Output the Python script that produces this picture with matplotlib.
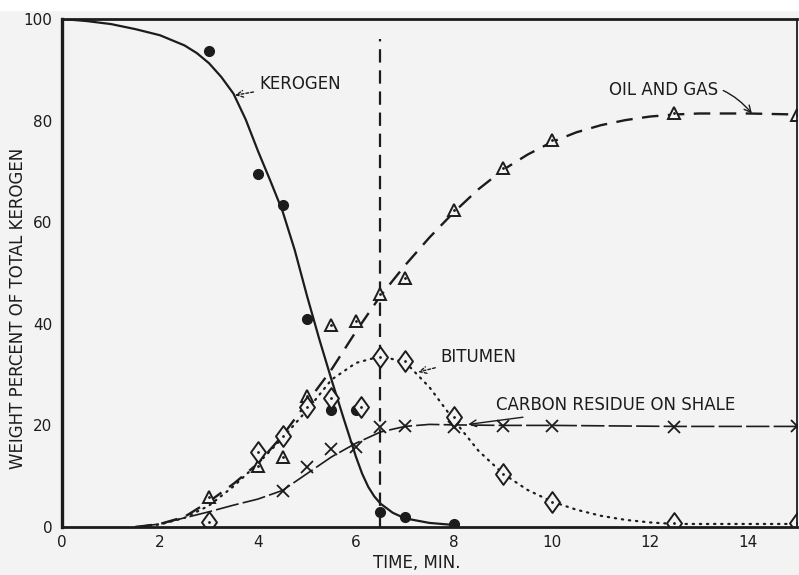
import matplotlib
matplotlib.use("Agg")
import matplotlib.pyplot as plt
from matplotlib.path import Path

# ---- measured points ----
ker_t = [3, 4, 4.5, 5, 5.5, 6, 6.5, 7, 8]
ker_w = [93.7, 69.5, 63.4, 41, 23, 23, 3, 2, 0.6]

oil_t = [3, 4, 4.5, 5, 5.5, 6, 6.5, 7, 8, 9, 10, 12.5, 15]
oil_w = [5.9, 12, 13.8, 25.8, 39.8, 40.6, 45.9, 49, 62.4, 70.7, 76.2, 81.5, 81.1]

bit_t = [3, 4, 4.5, 5, 5.5, 6.1, 6.5, 7, 8, 9, 10, 12.5, 15]
bit_w = [1.0, 14.8, 17.9, 23.6, 25.4, 23.6, 33.5, 32.7, 21.7, 10.4, 4.9, 0.8, 0.8]

car_t = [4.5, 5, 5.5, 6, 6.5, 7, 8, 9, 10, 12.5, 15]
car_w = [7, 11.8, 15.3, 15.7, 19.7, 19.9, 19.7, 19.8, 19.8, 19.7, 19.8]

# ---- fitted curves ----
ker_fit_t = [0, 0.5, 1, 1.5, 2, 2.5, 2.75, 3, 3.25, 3.5, 3.75, 4, 4.25, 4.5,
             4.75, 5, 5.25, 5.5, 5.75, 6, 6.125, 6.25, 6.375, 6.5, 6.75, 7,
             7.5, 8]
ker_fit_w = [100, 99.6, 99, 98, 96.8, 94.8, 93.3, 91.3, 88.6, 85.3, 80.2, 74,
             68.2, 62.2, 54.5, 45.5, 37, 29, 21.3, 13.8, 10.5, 7.9, 6.0, 4.6,
             2.8, 1.7, 0.8, 0.4]

oil_fit_t = [1.5, 2, 2.5, 3, 3.5, 4, 4.5, 5, 5.5, 6, 6.5, 7, 7.5, 8, 8.5, 9,
             9.5, 10, 10.5, 11, 11.5, 12, 12.5, 13, 14, 15]
oil_fit_w = [0, 0.6, 2, 5, 8.5, 12.5, 18, 24.5, 31, 38.5, 45.5, 51.5, 57, 62,
             66.5, 70.3, 73.3, 75.8, 77.7, 79.1, 80.1, 80.8, 81.2, 81.4, 81.4,
             81.2]

bit_fit_t = [1.5, 2, 2.5, 3, 3.5, 4, 4.5, 5, 5.5, 6, 6.5, 7, 7.5, 8, 8.5, 9,
             9.5, 10, 10.5, 11, 11.5, 12, 12.5, 13, 15]
bit_fit_w = [0, 0.5, 1.8, 4.2, 8, 12.5, 17.5, 23, 29, 32.3, 33.6, 32.5, 27.5,
             21, 15, 10.5, 7.3, 5, 3.4, 2.2, 1.4, 0.9, 0.6, 0.6, 0.6]

car_fit_t = [1.5, 2, 2.5, 3, 3.5, 4, 4.5, 5, 5.5, 6, 6.5, 7, 7.5, 8, 9, 10,
             12.5, 15]
car_fit_w = [0, 0.6, 1.8, 3, 4.3, 5.5, 7.2, 10.5, 13.8, 16.5, 18.7, 19.8,
             20.2, 20.1, 20, 20, 19.8, 19.8]

x_ticks = [0, 2, 4, 6, 8, 10, 12, 14]
y_ticks = [0, 20, 40, 60, 80, 100]
t_mark = 6.5

ink = "#1c1c1c"
paper = "#f3f3f3"

fig = plt.figure(figsize=(7.99, 5.75), dpi=100, facecolor=paper)
ax = fig.add_axes([62 / 799, 48 / 575, 735 / 799, 508 / 575])
ax.set_facecolor(paper)
fig.patches.append(plt.Rectangle((0, 1 - 10 / 575), 1, 10 / 575,
                                 transform=fig.transFigure, color="white",
                                 zorder=0))

# fitted curves
ax.plot(ker_fit_t, ker_fit_w, color=ink, lw=1.6, solid_capstyle="round",
        solid_joinstyle="round")
ax.plot(oil_fit_t, oil_fit_w, color=ink, lw=1.7, dashes=(7, 4))
ax.plot(bit_fit_t, bit_fit_w, color=ink, lw=1.6, dashes=(0.6, 2.6),
        dash_capstyle="round")
ax.plot(car_fit_t, car_fit_w, color=ink, lw=1.2, dashes=(14, 2.5))

# vertical marker line
ax.plot([t_mark, t_mark], [0, 96], color=ink, lw=1.6, dashes=(6, 3.5))

# data markers
diamond = Path([(0, 1), (0.72, 0), (0, -1), (-0.72, 0), (0, 1)],
               [Path.MOVETO, Path.LINETO, Path.LINETO, Path.LINETO,
                Path.CLOSEPOLY])
ax.plot(ker_t, ker_w, "o", color=ink, ms=7)
ax.plot(oil_t, oil_w, "^", mfc=paper, mec=ink, mew=1.4, ms=8)
ax.plot(oil_t, oil_w, ".", color=ink, ms=2)
ax.plot(bit_t, bit_w, marker=diamond, ls="none", mfc=paper, mec=ink,
        mew=1.4, ms=15)
ax.plot(bit_t, bit_w, ".", color=ink, ms=2)
ax.plot(car_t, car_w, "x", color=ink, mew=1.3, ms=9)

ax.set_xlim(0, 15)
ax.set_ylim(0, 100)
ax.set_xticks(x_ticks)
ax.set_yticks(y_ticks)
ax.tick_params(length=0, labelsize=11, colors=ink)
ax.tick_params(axis="x", pad=6)
ax.tick_params(axis="y", pad=7)
for side, w in (("left", 2.4), ("bottom", 2.0), ("top", 2.0), ("right", 1.3)):
    ax.spines[side].set_linewidth(w)
    ax.spines[side].set_color(ink)

# curve labels with arrows
txt = dict(fontsize=12, color=ink, va="center", ha="left")
arr = dict(arrowstyle="->", color=ink, lw=1.0, linestyle=(0, (2, 1.5)),
           shrinkA=2, shrinkB=0)
ax.annotate("KEROGEN", xy=(3.53, 85), xytext=(4.02, 87.2), arrowprops=arr, **txt)
ax.annotate("OIL AND GAS", xy=(14.08, 81.4), xytext=(11.16, 86),
            arrowprops=dict(arr, connectionstyle="arc3,rad=-0.35",
                            linestyle="-"), **txt)
ax.annotate("BITUMEN", xy=(7.27, 30.5), xytext=(7.73, 33.5), arrowprops=arr, **txt)
ax.annotate("CARBON RESIDUE ON SHALE", xy=(8.29, 20.2), xytext=(8.86, 24),
            arrowprops=dict(arr, linestyle="-"), **txt)

fig.text(417 / 799, 3 / 575, "TIME, MIN.", fontsize=12, color=ink,
         ha="center", va="bottom")
fig.text(18 / 799, 1 - 308 / 575, "WEIGHT PERCENT OF TOTAL KEROGEN",
         fontsize=12, color=ink, ha="center", va="center", rotation=90)

fig.savefig("out.png", dpi=100, facecolor=paper)
